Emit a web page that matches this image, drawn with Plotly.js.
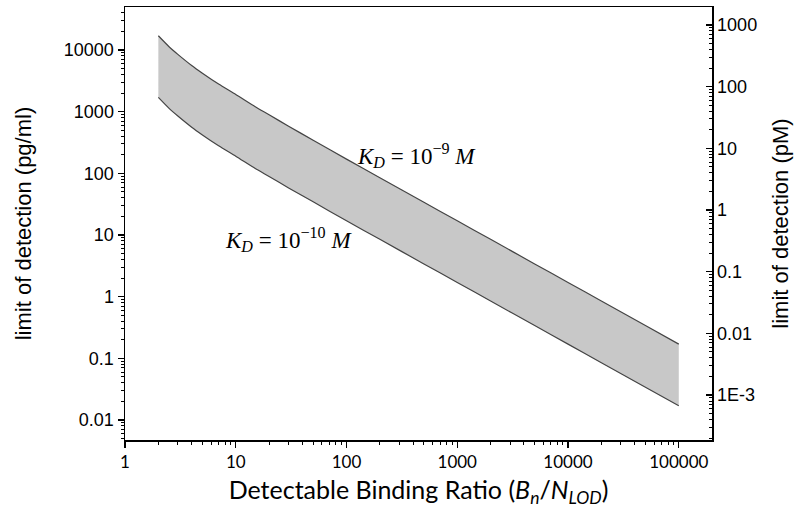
<!DOCTYPE html>
<html>
<head>
<meta charset="utf-8">
<script src="https://cdn.plot.ly/plotly-3.0.1.min.js"></script>
<style>
  html, body { margin: 0; padding: 0; background: #fff; }
  #grafico { width: 800px; height: 515px; }
</style>
</head>
<body>
<div id="grafico"></div>
<script>
// --- Dados ---
const razao = [2, 2.5, 3, 4, 5, 7, 10, 15, 20, 30, 50, 100, 200, 500, 1000, 2000, 5000, 10000, 20000, 50000, 100000];
const lodKd9 = [17000, 11300, 8500, 5600, 4200, 2800, 1900, 1200, 890, 580, 345, 170, 85, 34, 17, 8.5, 3.4, 1.7, 0.85, 0.34, 0.17];
const lodKd10 = [1700, 1130, 850, 560, 420, 280, 190, 120, 89, 58, 34.5, 17, 8.5, 3.4, 1.7, 0.85, 0.34, 0.17, 0.085, 0.034, 0.017];

const rotuloKd9 = "<i>K</i><sub><i>D</i></sub> = 10<sup>−9</sup> <i>M</i>";
const rotuloKd10 = "<i>K</i><sub><i>D</i></sub> = 10<sup>−10</sup> <i>M</i>";

const traceInferior = {
  x: razao,
  y: lodKd10,
  type: "scatter",
  mode: "lines",
  line: { color: "#444", width: 1.2, shape: "spline", smoothing: 0.6 },
  showlegend: false,
  hoverinfo: "x+y",
};

const traceSuperior = {
  x: razao,
  y: lodKd9,
  type: "scatter",
  mode: "lines",
  fill: "tonexty",
  fillcolor: "#c8c8c8",
  line: { color: "#444", width: 1.2, shape: "spline", smoothing: 0.6 },
  showlegend: false,
  hoverinfo: "x+y",
};

// eixo da direita (pM) precisa de um traço para ser desenhado
const traceEixoPm = {
  x: [],
  y: [],
  yaxis: "y2",
  type: "scatter",
  mode: "lines",
  showlegend: false,
  hoverinfo: "skip",
};

const fonteEixo = { family: "Arial, 'Liberation Sans', sans-serif", size: 18, color: "#000" };
const fonteTitulo = { family: "Arial, 'Liberation Sans', sans-serif", size: 22, color: "#000" };
const fonteMat = { family: "'Liberation Serif', 'DejaVu Serif', serif", size: 23, color: "#000" };

const layout = {
  width: 800,
  height: 515,
  paper_bgcolor: "#fff",
  plot_bgcolor: "#fff",
  showlegend: false,
  margin: { l: 125, r: 88, t: 7, b: 75 },
  xaxis: {
    type: "log",
    range: [0, 5.3],
    dtick: 1,
    tick0: 0,
    tickformat: "~g",
    showgrid: false,
    zeroline: false,
    showline: true,
    mirror: true,
    linecolor: "#000",
    linewidth: 1.5,
    ticks: "outside",
    ticklen: 6,
    tickwidth: 1.3,
    tickcolor: "#000",
    minor: { ticks: "outside", ticklen: 3, tickwidth: 1, tickcolor: "#000", showgrid: false },
    tickfont: { family: "Lato, 'Open Sans', sans-serif", size: 17, color: "#000" },
    title: {
      text: "Detectable Binding Ratio (<i>B</i><sub><i>n</i></sub>/<i>N</i><sub><i>LOD</i></sub>)",
      font: { family: "Lato, 'Open Sans', sans-serif", size: 25, color: "#000" },
      standoff: 10,
    },
  },
  yaxis: {
    type: "log",
    range: [-2.324, 4.697],
    dtick: 1,
    tick0: 0,
    tickformat: "~g",
    showgrid: false,
    zeroline: false,
    showline: true,
    linecolor: "#000",
    linewidth: 1.5,
    ticks: "outside",
    ticklen: 6,
    tickwidth: 1.3,
    tickcolor: "#000",
    minor: { ticks: "outside", ticklen: 3, tickwidth: 1, tickcolor: "#000", showgrid: false },
    tickfont: fonteEixo,
    title: { text: "limit of detection (pg/ml)", font: fonteTitulo, standoff: 26 },
  },
  yaxis2: {
    type: "log",
    overlaying: "y",
    side: "right",
    range: [-3.729, 3.292],
    dtick: 1,
    tick0: 0,
    tickformat: "~g",
    labelalias: { "0.001": "1E-3" },
    showgrid: false,
    zeroline: false,
    showline: true,
    linecolor: "#000",
    linewidth: 1.5,
    ticks: "inside",
    ticklen: 6,
    tickwidth: 1.3,
    tickcolor: "#000",
    minor: { ticks: "inside", ticklen: 3, tickwidth: 1, tickcolor: "#000", showgrid: false },
    tickfont: fonteEixo,
    title: { text: "limit of detection (pM)", font: fonteTitulo, standoff: 16 },
  },
  annotations: [
    {
      xref: "paper", yref: "paper",
      x: 0.496, y: 0.658,
      xanchor: "center", yanchor: "middle",
      text: rotuloKd9,
      showarrow: false,
      font: fonteMat,
    },
    {
      xref: "paper", yref: "paper",
      x: 0.278, y: 0.462,
      xanchor: "center", yanchor: "middle",
      text: rotuloKd10,
      showarrow: false,
      font: fonteMat,
    },
  ],
};

Plotly.newPlot("grafico", [traceInferior, traceSuperior, traceEixoPm], layout, { displayModeBar: false, staticPlot: true });
</script>
</body>
</html>
